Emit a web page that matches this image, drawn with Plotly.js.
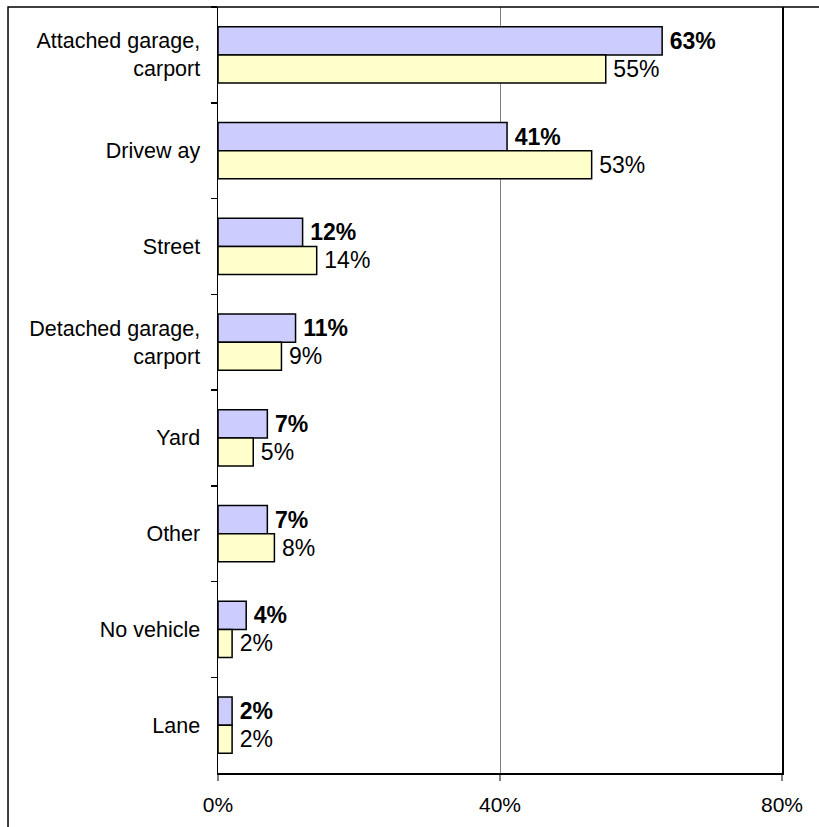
<!DOCTYPE html>
<html>
<head>
<meta charset="utf-8">
<script src="https://cdn.plot.ly/plotly-3.0.1.min.js"></script>
<style>html,body{margin:0;padding:0;background:#fff;}#chart{width:819px;height:827px;}</style>
</head>
<body>
<div id="chart"></div>
<script>
const categories = ["Attached garage,<br>carport", "Drivew ay", "Street", "Detached garage,<br>carport", "Yard", "Other", "No vehicle", "Lane"];
const seriesA = [63, 41, 12, 11, 7, 7, 4, 2];
const seriesB = [55, 53, 14, 9, 5, 8, 2, 2];
const xTickVals = [0, 40, 80];
const xTickText = ["0%", "40%", "80%"];

const font = "Liberation Sans, Arial, sans-serif";

const traces = [
  {
    type: "bar", orientation: "h", y: categories, x: seriesA,
    marker: {color: "#CCCCFF", line: {color: "#000", width: 1.5}},
    texttemplate: "\u2009%{x}%", textposition: "outside",
    textfont: {family: font, size: 23, color: "#000", weight: "bold"},
    constraintext: "none", cliponaxis: false, hoverinfo: "skip"
  },
  {
    type: "bar", orientation: "h", y: categories, x: seriesB,
    marker: {color: "#FFFFCC", line: {color: "#000", width: 1.5}},
    texttemplate: "\u2009%{x}%", textposition: "outside",
    textfont: {family: font, size: 23, color: "#000"},
    constraintext: "none", cliponaxis: false, hoverinfo: "skip"
  }
];

const layout = {
  width: 819, height: 827,
  margin: {l: 218, r: 37, t: 7, b: 54},
  paper_bgcolor: "#fff", plot_bgcolor: "#fff",
  showlegend: false,
  barmode: "group", bargap: 0.415, bargroupgap: 0,
  font: {family: font, size: 21, color: "#000"},
  xaxis: {
    range: [0, 80], tickvals: xTickVals, ticktext: xTickText,
    showgrid: true, gridcolor: "#808080", gridwidth: 1,
    showline: true, linecolor: "#000", linewidth: 1.5,
    ticks: "outside", ticklen: 6, tickcolor: "#808080", tickwidth: 2,
    ticklabelstandoff: 6,
    tickfont: {family: font, size: 21, color: "#000"},
    zeroline: false, fixedrange: true
  },
  yaxis: {
    autorange: "reversed", type: "category",
    showline: true, linecolor: "#000", linewidth: 1.5, mirror: true,
    ticks: "outside", tickson: "boundaries", ticklen: 6, tickcolor: "#000", tickwidth: 1.5,
    ticklabelstandoff: 12,
    tickfont: {family: font, size: 21.5, color: "#000"},
    showgrid: false, zeroline: false, fixedrange: true
  },
  shapes: [
    {type: "rect", xref: "paper", yref: "paper", x0: -0.3723, x1: 1.2, y0: -0.3, y1: 1,
     line: {color: "#000", width: 1.5}, fillcolor: "rgba(0,0,0,0)", layer: "above"}
  ]
};

Plotly.newPlot("chart", traces, layout, {displayModeBar: false, staticPlot: true});
</script>
</body>
</html>
